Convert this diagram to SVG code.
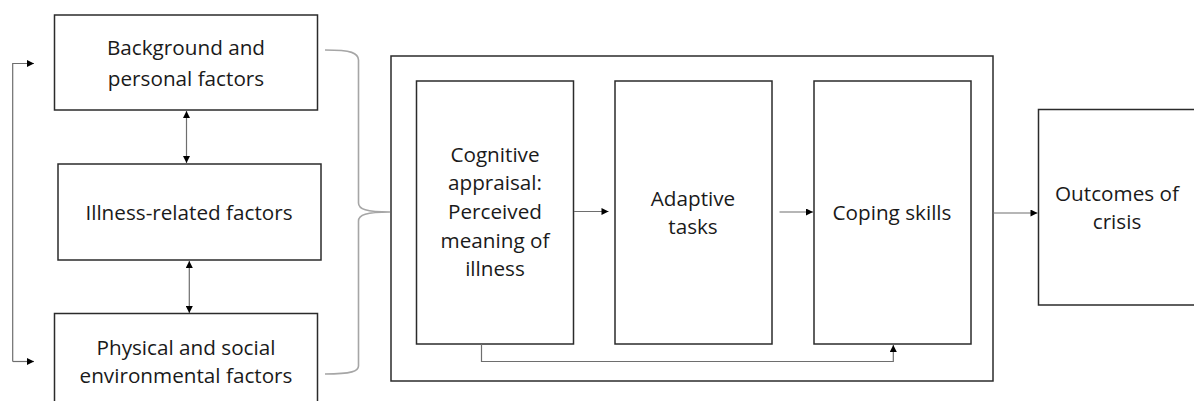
<svg xmlns="http://www.w3.org/2000/svg" width="1194" height="401" viewBox="0 0 1194 401">
  <defs>
    <marker id="arrow" viewBox="0 0 10 10" refX="10" refY="5" markerWidth="8" markerHeight="7" markerUnits="userSpaceOnUse" orient="auto-start-reverse">
      <path d="M0,0 L10,5 L0,10 z" fill="#000"/>
    </marker>
  </defs>
  <style>
    .box { fill: #fff; stroke: #2b2b2b; stroke-width: 1.5; }
    .lbl { font-family: "Open Sans", "Liberation Sans", sans-serif; font-size: 20.7px; fill: #1a1a1a; text-anchor: middle; }
    .conn { fill: none; stroke: #6e6e6e; stroke-width: 1.2; }
    .brace { fill: none; stroke: #a6a6a6; stroke-width: 1.6; }
  </style>
  <rect width="1194" height="401" fill="#fff"/>

  <!-- input factors -->
  <g id="background">
    <rect class="box" x="54.5" y="15" width="263" height="95"/>
    <text class="lbl" x="186" y="55">Background and</text>
    <text class="lbl" x="186" y="86">personal factors</text>
  </g>
  <g id="illness">
    <rect class="box" x="58" y="164" width="263" height="96"/>
    <text class="lbl" x="189" y="220">Illness-related factors</text>
  </g>
  <g id="environment">
    <path class="box" d="M54.5,404 V313.5 H317.5 V404"/>
    <text class="lbl" x="186" y="355">Physical and social</text>
    <text class="lbl" x="186" y="383">environmental factors</text>
  </g>

  <!-- process frame -->
  <g id="process">
    <rect class="box" x="391" y="56" width="602" height="325"/>
  </g>
  <g id="appraisal">
    <rect class="box" x="416.5" y="81" width="157" height="263"/>
    <text class="lbl" x="495" y="162">Cognitive</text>
    <text class="lbl" x="495" y="190">appraisal:</text>
    <text class="lbl" x="495" y="219">Perceived</text>
    <text class="lbl" x="495" y="248">meaning of</text>
    <text class="lbl" x="495" y="276">illness</text>
  </g>
  <g id="tasks">
    <rect class="box" x="615" y="81" width="157" height="263"/>
    <text class="lbl" x="693" y="206">Adaptive</text>
    <text class="lbl" x="693" y="234">tasks</text>
  </g>
  <g id="coping">
    <rect class="box" x="814" y="81" width="157" height="263"/>
    <text class="lbl" x="892" y="220">Coping skills</text>
  </g>
  <g id="outcomes">
    <path class="box" d="M1197,109.5 H1038.5 V305 H1197"/>
    <text class="lbl" x="1117" y="201">Outcomes of</text>
    <text class="lbl" x="1117" y="229">crisis</text>
  </g>

  <!-- connectors -->
  <g id="connectors">
    <path class="brace" d="M325,50 C352,50 358,53 358.5,60 V203 C358.5,209 366,212 390,212 C366,212 358.5,215 358.5,221 V366 C358.5,371 352,374 325,374"/>
    <path class="conn" d="M12.7,361.5 V63.5 H34" marker-end="url(#arrow)"/>
    <path class="conn" d="M12.7,361.5 H34" marker-end="url(#arrow)"/>
    <path class="conn" d="M186.5,111 V163" marker-start="url(#arrow)" marker-end="url(#arrow)"/>
    <path class="conn" d="M189.3,261 V313" marker-start="url(#arrow)" marker-end="url(#arrow)"/>
    <path class="conn" d="M574,211.5 H608.5" marker-end="url(#arrow)"/>
    <path class="conn" d="M779.5,212 H813" marker-end="url(#arrow)"/>
    <path class="conn" d="M993,213 H1037.5" marker-end="url(#arrow)"/>
    <path class="conn" d="M481.5,344 V361.5 H893.3 V345" marker-end="url(#arrow)"/>
  </g>
</svg>
